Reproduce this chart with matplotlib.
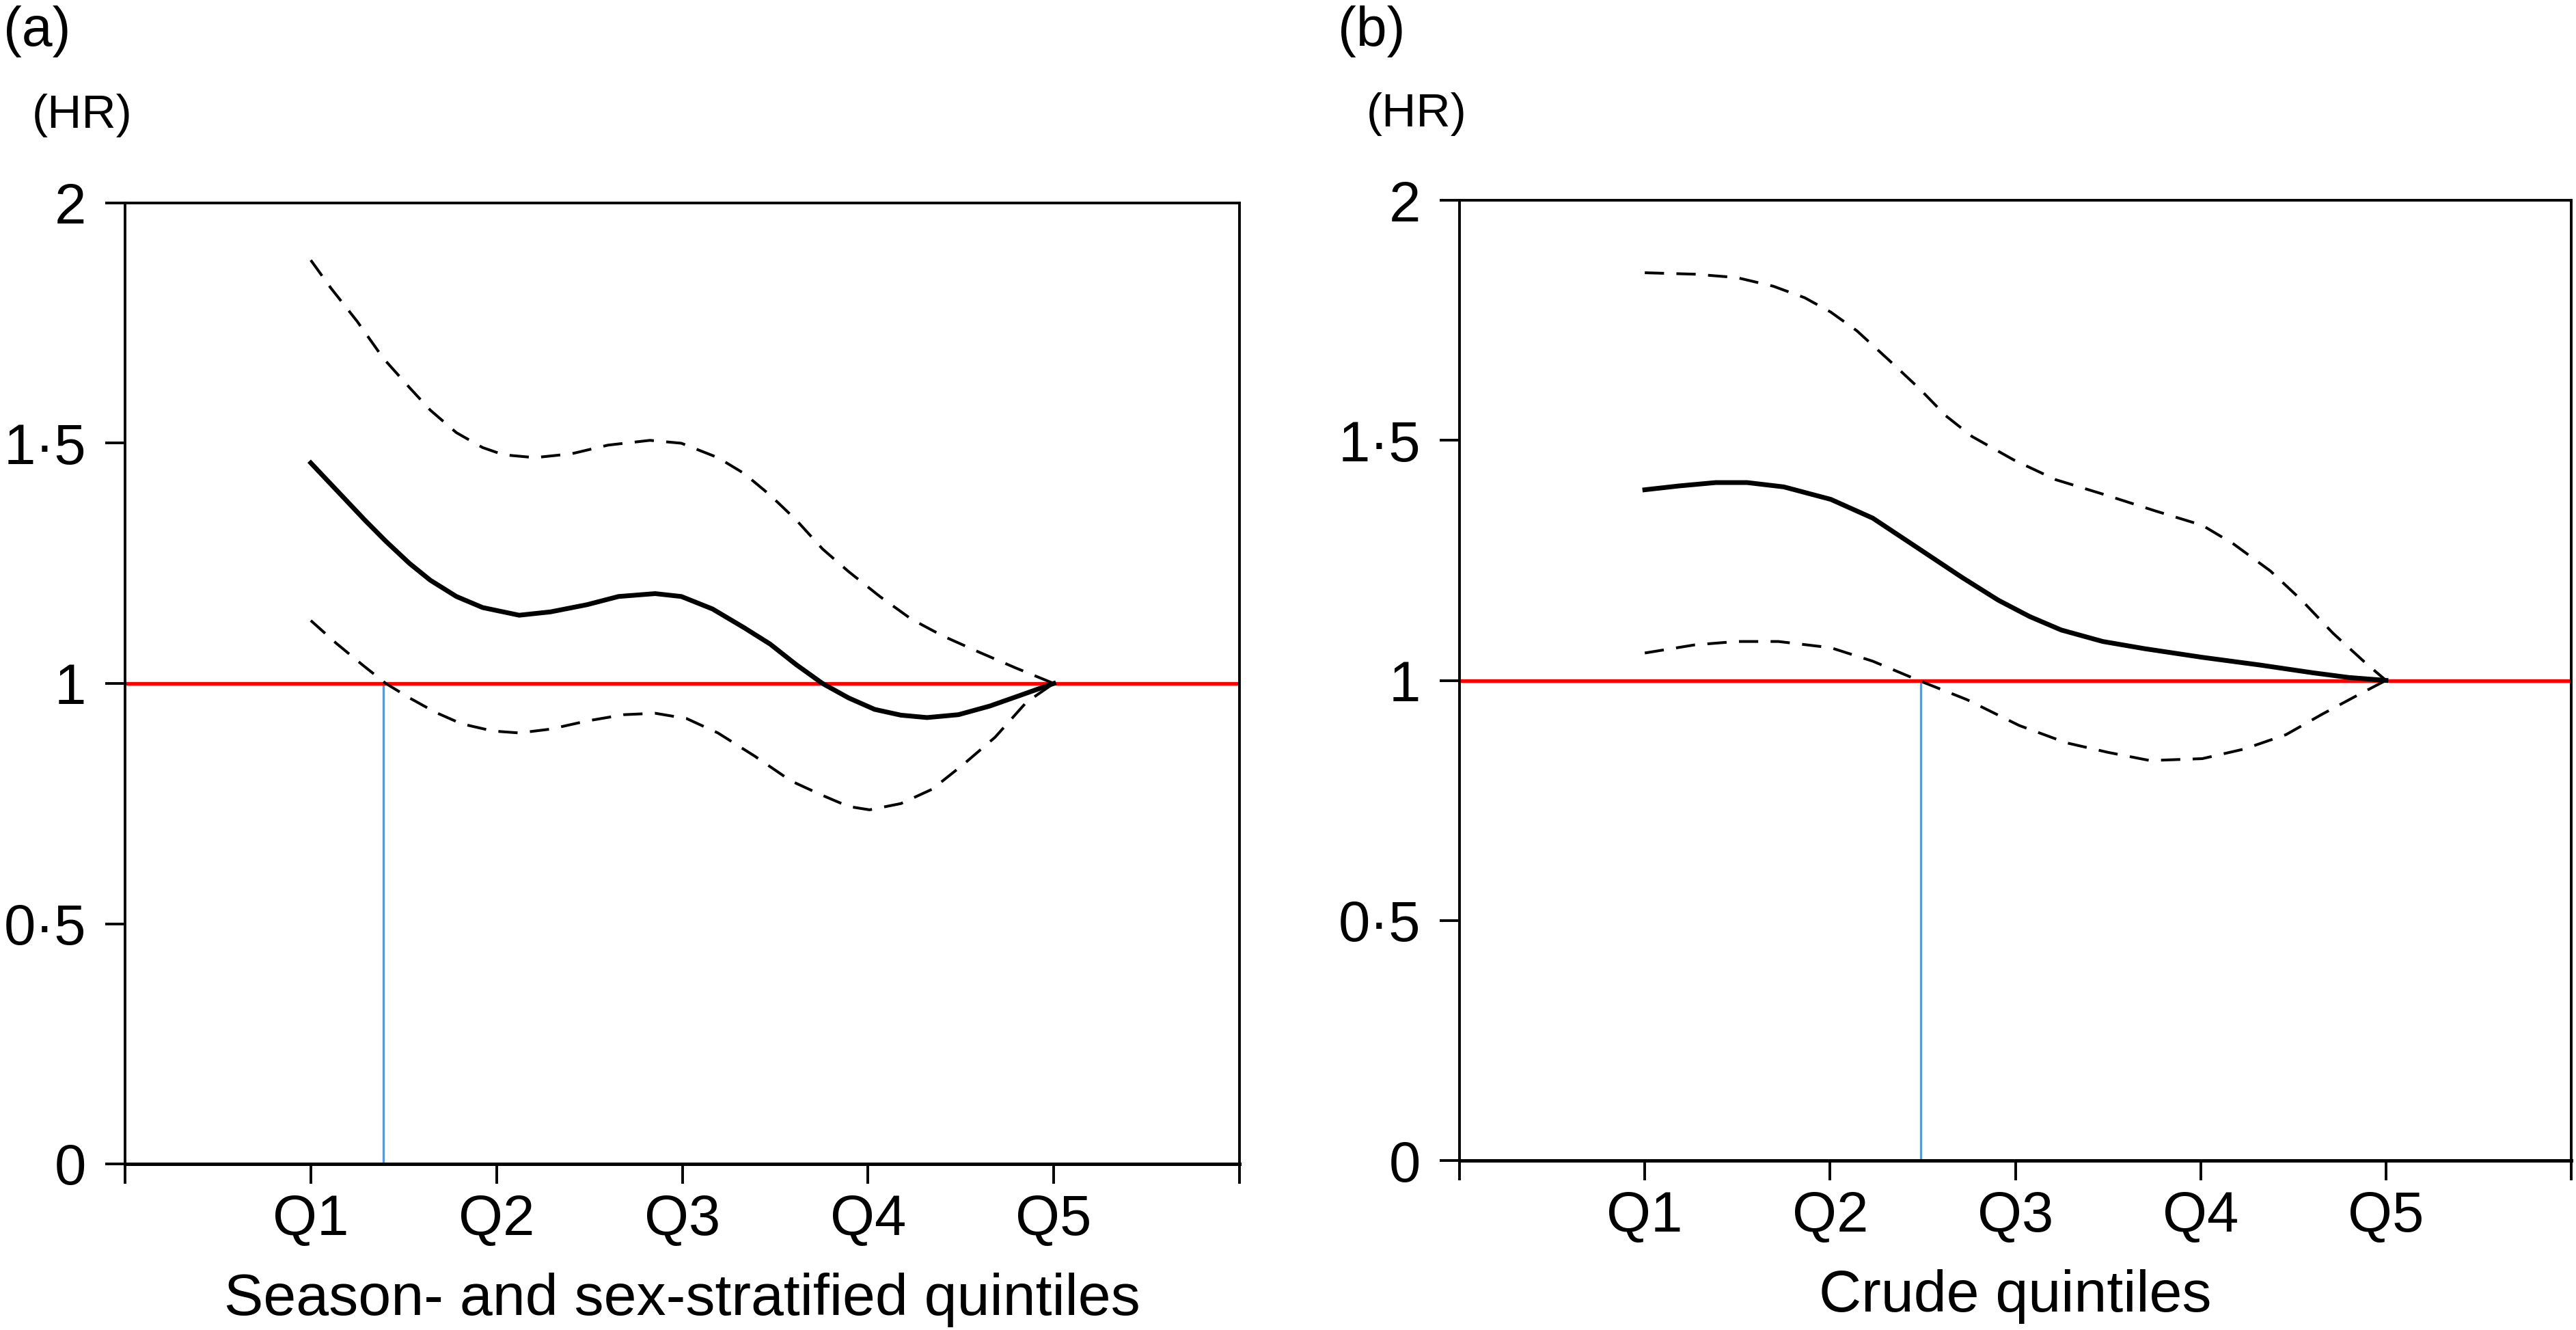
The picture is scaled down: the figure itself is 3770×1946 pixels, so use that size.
import matplotlib
matplotlib.use('Agg')
import matplotlib.pyplot as plt

plt.rcParams['font.family'] = ['Liberation Sans', 'DejaVu Sans']

# tick labels
q_ticks = [0, 1, 2, 3, 4, 5, 6]
q_labels = ['', 'Q1', 'Q2', 'Q3', 'Q4', 'Q5', '']
hr_ticks = [0, 0.5, 1, 1.5, 2]
hr_labels = ['0', '0\u00b75', '1', '1\u00b75', '2']

# (a) season- and sex-stratified quintiles
a_hr_x = [1.0, 1.164, 1.291, 1.404, 1.531, 1.643, 1.784, 1.925, 2.122, 2.291, 2.488, 2.657, 2.854, 2.995,
          3.163, 3.333, 3.473, 3.614, 3.755, 3.895, 4.036, 4.177, 4.318, 4.487, 4.656, 4.825, 5.0]
a_hr_y = [1.459, 1.392, 1.340, 1.296, 1.250, 1.215, 1.181, 1.158, 1.142, 1.149, 1.164, 1.181, 1.187, 1.181,
          1.155, 1.116, 1.082, 1.039, 1.0, 0.970, 0.946, 0.934, 0.929, 0.935, 0.953, 0.976, 1.0]
a_up_x = [1.0, 1.108, 1.249, 1.390, 1.531, 1.643, 1.784, 1.925, 2.037, 2.206, 2.403, 2.600, 2.826, 2.995,
          3.192, 3.333, 3.473, 3.614, 3.755, 3.895, 4.064, 4.233, 4.402, 4.599, 4.797, 5.0]
a_up_y = [1.881, 1.823, 1.754, 1.677, 1.616, 1.569, 1.522, 1.491, 1.476, 1.470, 1.478, 1.496, 1.506, 1.500,
          1.470, 1.437, 1.392, 1.340, 1.280, 1.233, 1.181, 1.134, 1.099, 1.065, 1.032, 1.0]
a_lo_x = [1.0, 1.136, 1.277, 1.404, 1.531, 1.671, 1.812, 1.981, 2.122, 2.291, 2.488, 2.685, 2.854, 3.023,
          3.192, 3.389, 3.586, 3.755, 3.895, 4.008, 4.177, 4.346, 4.515, 4.684, 4.853, 5.0]
a_lo_y = [1.131, 1.084, 1.039, 1.0, 0.970, 0.940, 0.916, 0.901, 0.897, 0.905, 0.922, 0.935, 0.938, 0.927,
          0.897, 0.849, 0.797, 0.767, 0.744, 0.737, 0.750, 0.780, 0.832, 0.888, 0.961, 1.0]
a_cross = 1.39

# (b) crude quintiles
b_hr_x = [1.0, 1.185, 1.383, 1.552, 1.750, 2.004, 2.230, 2.484, 2.710, 2.908, 3.077, 3.247, 3.472, 3.698,
          4.009, 4.320, 4.602, 4.800, 5.0]
b_hr_y = [1.397, 1.405, 1.412, 1.412, 1.403, 1.377, 1.338, 1.273, 1.215, 1.167, 1.133, 1.105, 1.081, 1.066,
          1.048, 1.032, 1.016, 1.006, 1.0]
b_up_x = [1.0, 1.270, 1.496, 1.693, 1.863, 2.004, 2.145, 2.315, 2.484, 2.625, 2.766, 2.992, 3.218, 3.472,
          3.755, 4.009, 4.178, 4.376, 4.545, 4.715, 4.885, 5.0]
b_up_y = [1.849, 1.846, 1.839, 1.821, 1.797, 1.767, 1.728, 1.668, 1.607, 1.551, 1.508, 1.459, 1.418, 1.388,
          1.353, 1.323, 1.284, 1.228, 1.167, 1.098, 1.038, 1.0]
b_lo_x = [1.0, 1.270, 1.496, 1.721, 2.004, 2.230, 2.484, 2.738, 3.021, 3.275, 3.501, 3.727, 4.009, 4.235,
          4.461, 4.658, 4.856, 5.0]
b_lo_y = [1.057, 1.074, 1.081, 1.081, 1.068, 1.040, 0.999, 0.960, 0.906, 0.870, 0.850, 0.833, 0.837, 0.857,
          0.887, 0.930, 0.971, 1.0]
b_cross = 2.49

W, H = 3770, 1946
fig = plt.figure(figsize=(W / 100, H / 100), dpi=100)


def draw_panel(rect, hx, hy, lx, ly, ux, uy, cross, xlabel):
    ax = fig.add_axes(rect)
    ax.plot([0, 6], [1, 1], color='#ff0000', lw=3.8, zorder=2)
    ax.plot([cross, cross], [0, 1], color='#5b9bd5', lw=2.4, zorder=1)
    ax.plot(ux, uy, color='black', lw=2.9, dashes=(7, 4.5), zorder=3)
    ax.plot(lx, ly, color='black', lw=2.9, dashes=(7, 4.5), zorder=3)
    ax.plot(hx, hy, color='black', lw=5, zorder=4, solid_joinstyle='round')
    ax.set_xlim(0, 6)
    ax.set_ylim(0, 2)
    ax.set_xticks(q_ticks)
    ax.set_xticklabels(q_labels)
    ax.set_yticks(hr_ticks)
    ax.set_yticklabels(hr_labels)
    ax.tick_params(axis='both', direction='out', length=21, width=2.8, labelsize=60)
    ax.tick_params(axis='y', pad=20)
    ax.tick_params(axis='x', pad=10)
    for s in ax.spines.values():
        s.set_linewidth(2.8)
    ax.spines['bottom'].set_linewidth(3.6)
    ax.set_xlabel(xlabel, fontsize=62, labelpad=27)
    return ax


draw_panel([183 / W, 1 - 1703 / H, 1631 / W, 1406 / H],
           a_hr_x, a_hr_y, a_lo_x, a_lo_y, a_up_x, a_up_y, a_cross,
           'Season- and sex-stratified quintiles')
draw_panel([2136 / W, 1 - 1698 / H, 1627 / W, 1405 / H],
           b_hr_x, b_hr_y, b_lo_x, b_lo_y, b_up_x, b_up_y, b_cross,
           'Crude quintiles')

fig.text(5 / W, 1 - 8 / H, '(a)', fontsize=58, ha='left', va='top')
fig.text(47 / W, 1 - 137 / H, '(HR)', fontsize=50, ha='left', va='top')
fig.text(1958 / W, 1 - 8 / H, '(b)', fontsize=58, ha='left', va='top')
fig.text(2000 / W, 1 - 135 / H, '(HR)', fontsize=50, ha='left', va='top')

fig.savefig('out.png', dpi=100)
